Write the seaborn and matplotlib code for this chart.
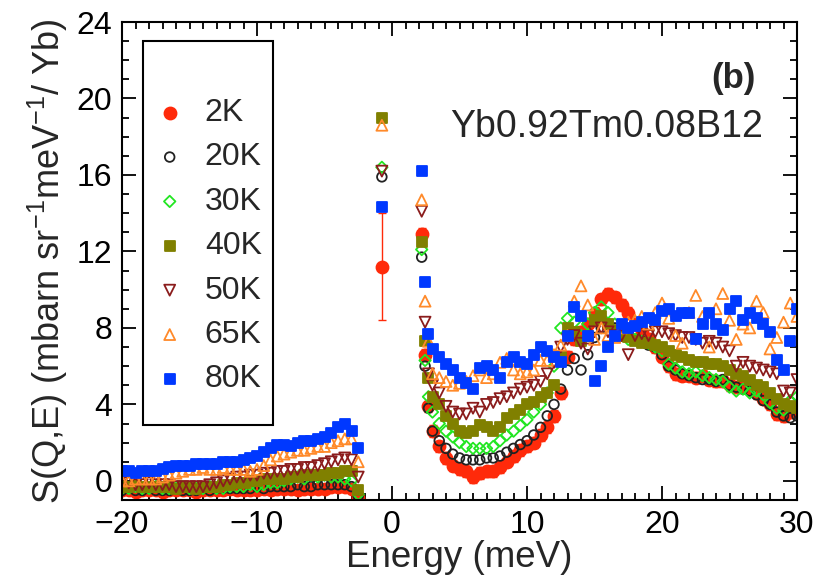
import numpy as np
import pandas as pd
import matplotlib
matplotlib.use('Agg')
import matplotlib.pyplot as plt
from matplotlib.patches import Rectangle
from matplotlib.ticker import MultipleLocator
import seaborn as sns

# energy grid (meV): neutron-energy-loss side, elastic line, energy-gain side
E_neg = np.arange(-20.0, -2.4, 0.5)
E_el = [-0.75]
E_pos = [2.2, 2.45, 2.7] + list(np.arange(3.0, 30.01, 0.5))

temps = ['2K', '20K', '30K', '40K', '50K', '65K', '80K']

s2K_neg = [-0.5, -0.5, -0.6, -0.5, -0.5, -0.5,
           -0.6, -0.5, -0.5, -0.5, -0.5, -0.6,
           -0.5, -0.5, -0.5, -0.5, -0.4, -0.5,
           -0.5, -0.5, -0.5, -0.4, -0.5, -0.4,
           -0.4, -0.4, -0.5, -0.4, -0.4, -0.4,
           -0.4, -0.3, -0.3, -0.3, -0.4, -0.9]
s20K_neg = [-0.5, -0.4, -0.5, -0.5, -0.4, -0.5,
            -0.5, -0.5, -0.4, -0.5, -0.5, -0.5,
            -0.4, -0.5, -0.4, -0.4, -0.4, -0.4,
            -0.4, -0.4, -0.3, -0.4, -0.3, -0.3,
            -0.3, -0.3, -0.2, -0.3, -0.3, -0.2,
            -0.2, -0.2, -0.2, -0.2, -0.3, -0.8]
s30K_neg = [-0.4, -0.4, -0.3, -0.4, -0.4, -0.3,
            -0.4, -0.4, -0.4, -0.3, -0.4, -0.4,
            -0.4, -0.3, -0.4, -0.4, -0.3, -0.3,
            -0.3, -0.2, -0.3, -0.2, -0.1, -0.1,
            0.0, 0.1, 0.2, 0.1, 0.3, 0.2,
            0.3, 0.2, 0.2, 0.1, 0.0, -0.7]
s40K_neg = [-0.3, -0.3, -0.2, -0.3, -0.3, -0.3,
            -0.3, -0.3, -0.4, -0.3, -0.3, -0.4,
            -0.3, -0.3, -0.3, -0.2, -0.2, -0.1,
            -0.1, 0.0, 0.0, 0.1, 0.1, 0.1,
            0.1, 0.2, 0.2, 0.3, 0.3, 0.3,
            0.3, 0.4, 0.4, 0.5, 0.5, -0.5]
s50K_neg = [-0.1, -0.1, -0.2, -0.2, -0.1, -0.2,
            -0.2, -0.2, -0.3, -0.3, -0.3, -0.3,
            -0.3, -0.2, -0.1, 0.0, 0.1, 0.2,
            0.2, 0.3, 0.3, 0.4, 0.4, 0.5,
            0.5, 0.6, 0.6, 0.7, 0.7, 0.8,
            0.9, 1.0, 1.1, 1.2, 1.1, 0.2]
s65K_neg = [0.0, 0.0, 0.1, 0.1, 0.1, 0.1,
            0.2, 0.3, 0.4, 0.5, 0.6, 0.6,
            0.7, 0.6, 0.6, 0.7, 0.6, 0.6,
            0.6, 0.5, 0.6, 0.8, 1.1, 1.3,
            1.4, 1.5, 1.6, 1.6, 1.7, 1.8,
            1.8, 2.0, 2.1, 2.2, 2.2, 1.0]
s80K_neg = [0.5, 0.5, 0.4, 0.5, 0.5, 0.5,
            0.6, 0.7, 0.8, 0.8, 0.8, 0.9,
            0.9, 0.9, 0.9, 1.0, 1.0, 1.0,
            1.1, 1.2, 1.3, 1.5, 1.7, 1.9,
            1.9, 1.8, 2.0, 2.1, 2.1, 2.2,
            2.3, 2.5, 2.8, 3.0, 2.6, 1.7]

s_el = [11.2, 15.9, 16.4, 19.0, 16.2, 18.6, 14.3]

s2K_pos = [12.9, 6.6, 3.9,
           2.6, 1.8, 1.2, 0.8, 0.6,
           0.5, 0.2, 0.4, 0.5, 0.5,
           0.7, 1.0, 1.3, 1.6, 1.8,
           2.0, 2.4, 2.8, 3.4, 4.6,
           6.5, 7.4, 7.8, 8.2, 8.8,
           9.5, 9.8, 9.6, 9.2, 8.8,
           8.2, 7.8, 7.4, 7.0, 6.5,
           6.0, 5.6, 5.5, 5.5, 5.4,
           5.5, 5.3, 5.2, 5.2, 5.0,
           4.9, 4.9, 4.8, 4.6, 4.3,
           4.0, 3.5, 3.4, 3.6, 3.8]
s20K_pos = [11.7, 6.0, 3.8,
            2.6, 2.1, 1.7, 1.4, 1.2,
            1.1, 1.1, 1.1, 1.2, 1.2,
            1.3, 1.5, 1.7, 1.9, 2.1,
            2.4, 2.8, 3.4, 4.0, 4.8,
            5.8, 6.4, 5.8, 6.6, 7.5,
            8.0, 8.2, 8.0, 7.8, 7.6,
            7.4, 7.3, 7.1, 7.0, 6.6,
            6.0, 5.8, 5.6, 5.5, 5.4,
            5.3, 5.3, 5.2, 5.3, 5.0,
            4.9, 4.8, 4.7, 4.5, 4.2,
            4.0, 3.6, 3.4, 3.3, 3.4]
s30K_pos = [12.1, 6.3, 4.4,
            3.6, 3.0, 2.6, 2.3, 2.0,
            1.8, 1.7, 1.7, 1.7, 1.8,
            2.1, 2.4, 2.6, 2.9, 3.2,
            3.6, 4.0, 4.6, 6.0, 8.0,
            8.5, 8.3, 7.6, 8.2, 8.8,
            9.1, 8.8, 8.2, 7.7, 7.4,
            7.4, 7.3, 7.2, 7.0, 6.8,
            6.1, 5.9, 5.7, 5.6, 5.7,
            5.5, 5.4, 5.3, 5.2, 4.9,
            4.7, 4.8, 4.6, 4.7, 4.5,
            4.1, 3.8, 3.7, 4.2, 4.4]
s40K_pos = [12.5, 7.3, 5.4,
            4.4, 4.0, 3.4, 3.0, 2.6,
            2.5, 2.6, 2.9, 2.8, 2.6,
            2.8, 3.3, 3.5, 3.7, 4.0,
            4.1, 4.4, 4.6, 5.0, 6.5,
            8.0, 7.8, 7.3, 7.6, 8.4,
            8.6, 8.2, 7.9, 7.6, 7.5,
            7.3, 7.2, 7.2, 7.1, 7.0,
            6.8, 6.6, 6.5, 6.3, 6.2,
            6.2, 6.1, 6.1, 6.0, 5.8,
            5.6, 5.5, 5.3, 5.0, 4.9,
            4.6, 4.3, 4.0, 3.9, 3.8]
s50K_pos = [14.1, 8.3, 5.6,
            5.0, 4.6, 3.9, 3.6, 3.5,
            3.5, 3.8, 3.6, 4.0, 4.1,
            4.3, 4.4, 4.6, 4.8, 4.9,
            5.0, 5.2, 5.6, 6.2, 7.0,
            7.4, 7.6, 7.2, 6.9, 7.8,
            8.0, 7.8, 7.6, 7.6, 6.6,
            7.6, 7.7, 7.6, 7.8, 7.8,
            7.7, 7.6, 7.5, 7.5, 7.4,
            7.2, 7.3, 7.2, 7.0, 6.8,
            6.0, 6.2, 6.0, 5.9, 5.8,
            5.7, 5.6, 4.7, 4.6, 5.3]
s65K_pos = [14.7, 9.4, 7.3,
            5.6, 5.4, 5.2, 5.0, 5.1,
            5.2, 5.5, 5.8, 5.4, 5.6,
            6.2, 6.4, 5.8, 5.6, 5.7,
            5.8, 6.3, 6.3, 6.6, 7.1,
            7.6, 9.4, 10.2, 9.2, 7.4,
            8.0, 7.6, 7.5, 8.0, 8.3,
            8.4, 8.6, 8.2, 8.8, 9.3,
            8.5, 7.6, 7.2, 8.8, 9.7,
            8.6, 7.0, 9.0, 9.8, 8.4,
            7.4, 8.2, 8.0, 9.4, 8.8,
            6.9, 7.5, 8.3, 9.3, 8.6]
s80K_pos = [16.2, 10.4, 7.7,
            6.9, 6.5, 6.1, 5.8, 5.4,
            5.1, 4.8, 5.9, 6.0, 5.8,
            5.4, 6.2, 6.5, 6.2, 6.1,
            6.6, 7.0, 6.8, 6.5, 6.2,
            7.6, 9.1, 8.6, 7.6, 5.2,
            6.0, 7.0, 7.6, 8.2, 8.0,
            8.1, 8.3, 8.5, 8.4, 8.9,
            9.0, 8.6, 8.8, 8.8, 7.4,
            8.2, 8.8, 8.2, 7.9, 9.0,
            9.4, 8.4, 8.8, 8.5, 8.2,
            7.8, 6.3, 5.8, 7.3, 9.0]

# error bars only visible on the 2K data
err2K_neg = 0.2
err2K_el = 2.8
err2K_pos = 0.3

neg = [s2K_neg, s20K_neg, s30K_neg, s40K_neg, s50K_neg, s65K_neg, s80K_neg]
pos = [s2K_pos, s20K_pos, s30K_pos, s40K_pos, s50K_pos, s65K_pos, s80K_pos]

rows = []
for t, sn, se, sp in zip(temps, neg, s_el, pos):
    E = list(E_neg) + E_el + list(E_pos)
    S = sn + [se] + sp
    for e, s in zip(E, S):
        rows.append((t, e, s))
df = pd.DataFrame(rows, columns=['T', 'Energy', 'S'])

# marker, size, face, edge
styles = {
    '2K':  ('o', 75, '#ff2a0a', '#ff2a0a'),
    '20K': ('o', 48, 'none', '#222222'),
    '30K': ('D', 34, 'none', '#22e622'),
    '40K': ('s', 50, '#808000', '#808000'),
    '50K': ('v', 62, 'none', '#8b1c1c'),
    '65K': ('^', 62, 'none', '#ff8a2a'),
    '80K': ('s', 58, '#0038ff', '#0038ff'),
}

sns.set_style('ticks')
plt.rcParams['font.family'] = ['Liberation Sans', 'DejaVu Sans']
plt.rcParams['mathtext.fontset'] = 'custom'
plt.rcParams['mathtext.rm'] = 'Liberation Sans'

fig = plt.figure(figsize=(8.31, 5.86), dpi=100)
ax = fig.add_axes([122 / 831, 1 - 500 / 586, 675 / 831, 478 / 586])

d2 = df[df['T'] == '2K']
yerr = [err2K_neg] * len(E_neg) + [err2K_el] + [err2K_pos] * len(E_pos)
ax.errorbar(d2['Energy'], d2['S'], yerr=yerr, fmt='none', ecolor='#ff2a0a',
            elinewidth=1, capsize=3, zorder=1)

for t in temps:
    m, s, fc, ec = styles[t]
    sns.scatterplot(data=df[df['T'] == t], x='Energy', y='S', ax=ax,
                    marker=m, s=s, facecolor=fc, edgecolor=ec, color=ec,
                    linewidth=1.3, label=t, zorder=2)

ax.set_xlim(-20, 30)
ax.set_ylim(-1, 24)
ax.xaxis.set_major_locator(MultipleLocator(10))
ax.xaxis.set_minor_locator(MultipleLocator(1))
ax.yaxis.set_major_locator(MultipleLocator(4))
ax.yaxis.set_minor_locator(MultipleLocator(1))
ax.tick_params(which='both', direction='in', top=True, right=True,
               width=1.3, labelsize=23, pad=7, colors='black')
ax.tick_params(which='major', length=10)
ax.tick_params(which='minor', length=5)
for sp in ax.spines.values():
    sp.set_linewidth(1.5)
    sp.set_color('black')

ax.set_xlabel('Energy (meV)', fontsize=26.5, labelpad=0)
ax.set_ylabel(r'S(Q,E) (mbarn sr$^{-1}$meV$^{-1}$/ Yb)', fontsize=26, labelpad=5)

ax.text(0.939, 0.862, '(b)', transform=ax.transAxes, ha='right', va='baseline',
        fontsize=25, fontweight='bold')
ax.text(0.950, 0.759, 'Yb0.92Tm0.08B12', transform=ax.transAxes, ha='right',
        va='baseline', fontsize=27)

ax.add_patch(Rectangle((0.031, 0.157), 0.1926, 0.803, transform=ax.transAxes,
                       fill=False, edgecolor='black', linewidth=1.5, zorder=5))
leg = ax.legend(loc='center left', bbox_to_anchor=(0.047, 0.531), frameon=False,
                fontsize=23, handlelength=1.0, handletextpad=0.6, labelspacing=0.45,
                borderpad=0, borderaxespad=0, scatterpoints=1)

fig.savefig('out.png', dpi=100)
